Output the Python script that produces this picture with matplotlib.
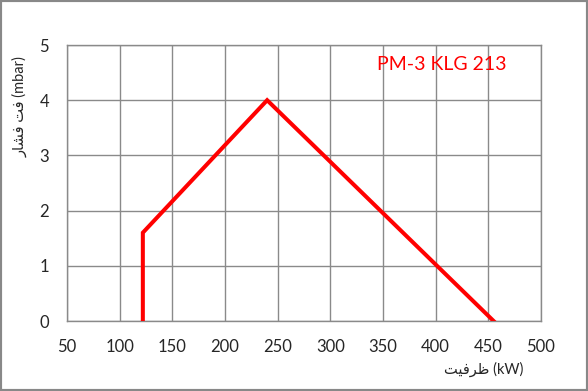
import matplotlib
matplotlib.use("Agg")
import matplotlib.pyplot as plt
from matplotlib.patches import Rectangle

# data
capacity_kw = [122, 122, 240, 455]
pressure_mbar = [0, 1.6, 4.0, 0]
x_ticks = [50, 100, 150, 200, 250, 300, 350, 400, 450, 500]
y_ticks = [0, 1, 2, 3, 4, 5]
series_label = "PM-3 KLG 213"

# Persian labels in visual (presentation form) order
xlabel = "\uFE96\uFEF4\uFED3\uFEAE\uFEC7 (kW)"        # ظرفیت (kW)
ylabel = "\uFEAD\uFE8E\uFEB8\uFED3 \uFE96\uFED3 (mbar)"  # فت فشار (mbar)

fig = plt.figure(figsize=(5.88, 3.91), dpi=100)
ax = fig.add_axes([67/588, 1-321/391, (541-67)/588, (321-45)/391])

ax.plot(capacity_kw, pressure_mbar, color="#ff0000", lw=2.9, solid_joinstyle="miter", zorder=3)
ax.set_xlim(50, 500)
ax.set_ylim(0, 5)
ax.set_xticks(x_ticks)
ax.set_yticks(y_ticks)
ax.grid(True, color="#8a8a8a", lw=1.0)
for s in ax.spines.values():
    s.set_color("#8a8a8a")
    s.set_linewidth(1.0)
ax.tick_params(axis="x", length=0, labelsize=12, colors="#262626", pad=13)
ax.tick_params(axis="y", length=0, labelsize=12, colors="#262626", pad=13)
for lab in ax.get_xticklabels() + ax.get_yticklabels():
    lab.set_family(["Lato", "DejaVu Sans"])

ax.text(406, 4.64, series_label, color="#ff0000", fontsize=14, ha="center", va="center",
        family=["Lato", "DejaVu Sans"])

fig.text(484/588, 1-369/391, xlabel, fontsize=10.5, family=["Lato", "DejaVu Sans"],
         color="#262626", ha="center", va="center")
fig.text(20/588, 1-107/391, ylabel, fontsize=10.5, family=["Lato", "DejaVu Sans"],
         color="#262626", ha="center", va="center", rotation=90)

fig.patches.append(Rectangle((0, 0), 1, 1, transform=fig.transFigure, fill=False,
                             edgecolor="#888888", lw=3))
fig.savefig("out.png", dpi=100)
